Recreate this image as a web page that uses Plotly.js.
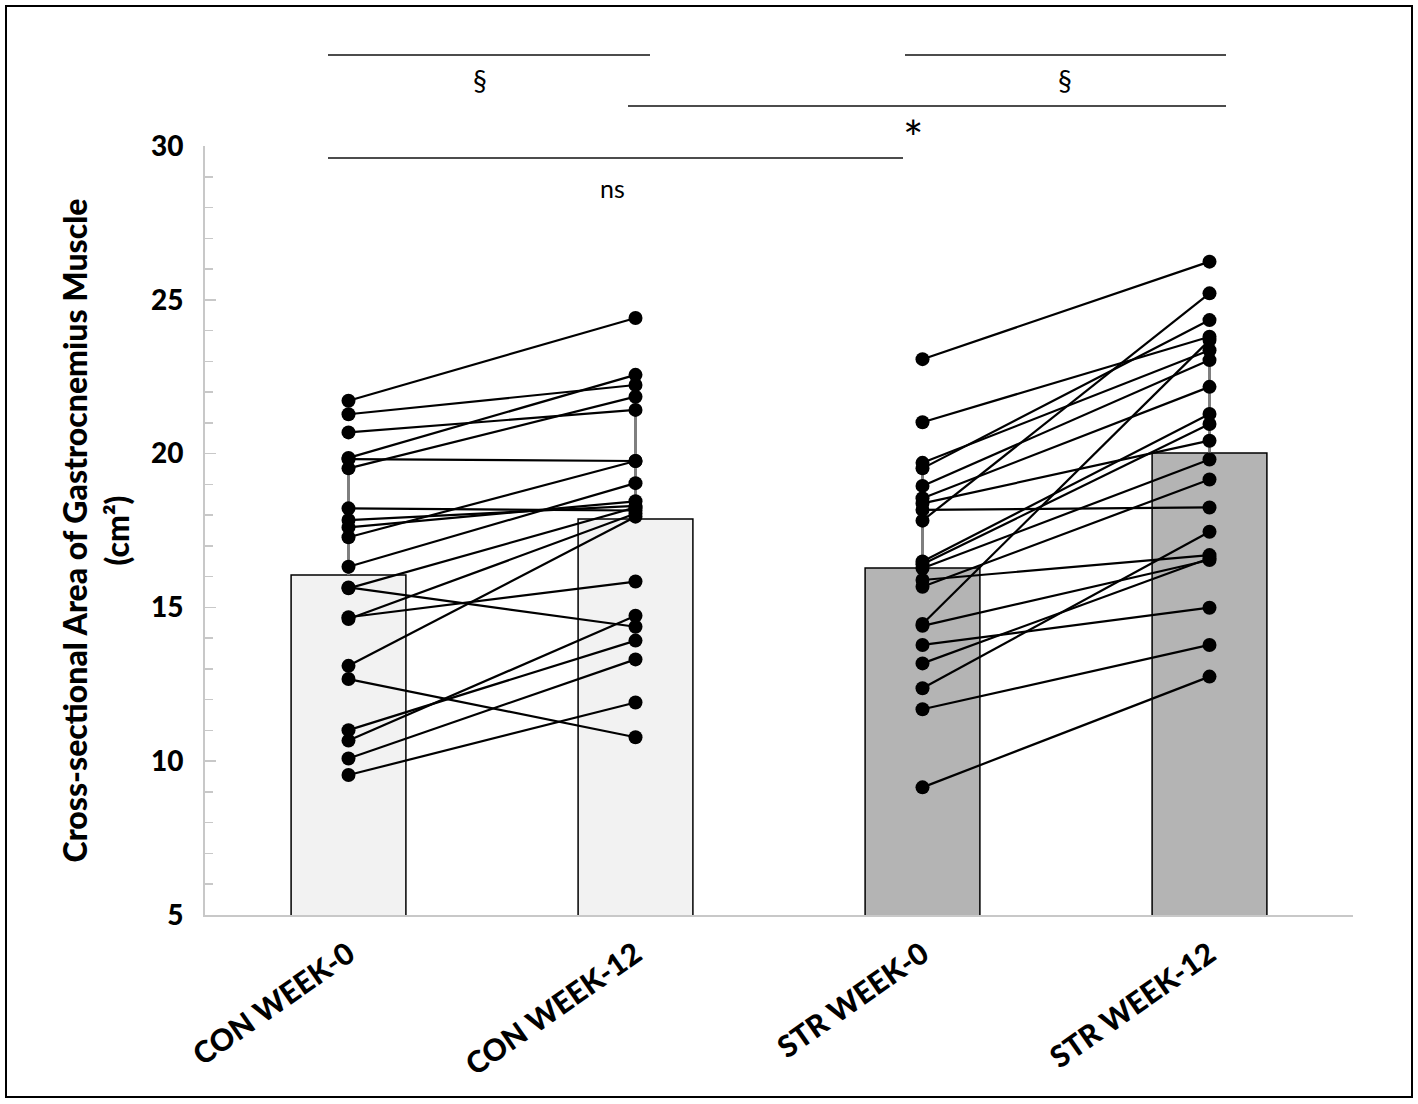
<!DOCTYPE html>
<html>
<head>
<meta charset="utf-8">
<script src="https://cdn.plot.ly/plotly-3.0.1.min.js"></script>
<style>html,body{margin:0;padding:0;background:#fff;}#chart{width:1418px;height:1104px;}</style>
</head>
<body>
<div id="chart"></div>
<script>
// Categories
var categories = ['CON WEEK-0', 'CON WEEK-12', 'STR WEEK-0', 'STR WEEK-12'];
// Group means (bar heights) and SD (upper error bars)
var barMeans = [16.05, 17.87, 16.28, 20.02];
var barSD = [3.75, 3.55, 3.42, 3.5];
// Individual subjects, CON group
var conWeek0  = [21.72, 21.28, 20.69, 19.86, 19.82, 19.52, 18.22, 17.84, 17.60, 17.28, 16.32, 15.65, 15.62, 14.68, 14.62, 13.10, 12.67, 11.01, 10.67, 10.09, 9.55];
var conWeek12 = [24.41, 22.23, 21.42, 22.56, 19.76, 21.85, 18.15, 18.30, 18.45, 19.76, 19.04, 14.37, 18.25, 15.84, 18.05, 17.95, 10.78, 13.92, 14.73, 13.31, 11.91];
// Individual subjects, STR group
var strWeek0  = [23.07, 21.02, 19.70, 19.52, 18.95, 18.55, 18.38, 18.17, 17.82, 16.49, 16.40, 16.27, 15.89, 15.67, 14.46, 14.40, 13.78, 13.18, 12.37, 11.69, 9.15];
var strWeek12 = [26.24, 23.80, 23.36, 24.34, 23.04, 22.17, 20.42, 18.25, 25.21, 21.29, 20.96, 19.81, 16.70, 19.16, 23.69, 16.54, 14.99, 16.60, 17.46, 13.78, 12.75];
// Y-axis ticks
var yTickVals = [5, 10, 15, 20, 25, 30];

function pairTrace(c0, c1, a, b) {
  var xs = [], ys = [];
  for (var i = 0; i < a.length; i++) {
    xs.push(c0, c1, null);
    ys.push(a[i], b[i], null);
  }
  return {
    type: 'scatter', mode: 'lines+markers', x: xs, y: ys,
    connectgaps: false, cliponaxis: false,
    line: {color: '#000', width: 2.2},
    marker: {color: '#000', size: 14},
    hoverinfo: 'skip', showlegend: false
  };
}

var bars = {
  type: 'bar', x: categories, y: barMeans, width: 0.4,
  marker: {color: ['#f2f2f2', '#f2f2f2', '#b4b4b4', '#b4b4b4'], line: {color: '#000', width: 1.5}},
  error_y: {type: 'data', symmetric: false, array: barSD, arrayminus: [0, 0, 0, 0],
            color: '#7f7f7f', thickness: 3, width: 0},
  showlegend: false, hoverinfo: 'skip'
};

var data = [
  bars,
  pairTrace(categories[0], categories[1], conWeek0, conWeek12),
  pairTrace(categories[2], categories[3], strWeek0, strWeek12)
];

var L = 205, T = 146, W = 1148, H = 769;
function px(x) { return (x - L) / W; }
function py(y) { return (T + H - y) / H; }
function hline(x0, x1, y) {
  return {type: 'line', xref: 'paper', yref: 'paper', x0: px(x0), x1: px(x1), y0: py(y), y1: py(y),
          line: {color: '#111', width: 1.3}};
}
function note(text, x, y, size) {
  return {xref: 'paper', yref: 'paper', x: px(x), y: py(y), text: text, showarrow: false,
          font: {family: 'Lato, sans-serif', size: size, color: '#000'}, xanchor: 'center', yanchor: 'middle'};
}

var boldFont = function (s) { return {family: 'Lato, sans-serif', size: s, weight: 900, color: '#000'}; };

var layout = {
  width: 1418, height: 1104,
  margin: {l: L, r: 1418 - L - W, t: T, b: 1104 - T - H},
  paper_bgcolor: '#fff', plot_bgcolor: '#fff',
  font: {family: 'Lato, sans-serif', color: '#000'},
  xaxis: {
    type: 'category', categoryorder: 'array', categoryarray: categories,
    range: [-0.5, 3.5], showline: true, linecolor: '#c8c8c8', linewidth: 2,
    ticks: '', tickangle: -35, showgrid: false, zeroline: false, ticklabelstandoff: 8,
    tickfont: boldFont(30)
  },
  yaxis: {
    range: [5, 30], tickvals: yTickVals, showline: true, linecolor: '#c8c8c8', linewidth: 2,
    ticks: 'inside', ticklen: 11, tickcolor: '#c8c8c8', tickwidth: 1.5,
    minor: {dtick: 1, ticks: 'inside', ticklen: 8, tickcolor: '#c8c8c8', tickwidth: 1.5, showgrid: false},
    showgrid: false, zeroline: false, ticklabelstandoff: 14,
    tickfont: boldFont(28),
    title: {text: 'Cross-sectional Area of Gastrocnemius Muscle<br>(cm²)', standoff: 12,
            font: boldFont(32)}
  },
  shapes: [
    hline(328, 650, 55),
    hline(905, 1226, 55),
    hline(628, 1226, 106),
    hline(328, 903, 158),
    {type: 'rect', xref: 'paper', yref: 'paper', x0: px(6), x1: px(1412), y0: py(1097), y1: py(6),
     line: {color: '#000', width: 2}, fillcolor: 'rgba(0,0,0,0)'}
  ],
  annotations: [
    note('§', 480, 80, 28),
    note('§', 1065, 80, 28),
    note('*', 913, 138, 48),
    note('ns', 612, 188, 25)
  ]
};

Plotly.newPlot('chart', data, layout, {displayModeBar: false, staticPlot: true});
</script>
</body>
</html>
